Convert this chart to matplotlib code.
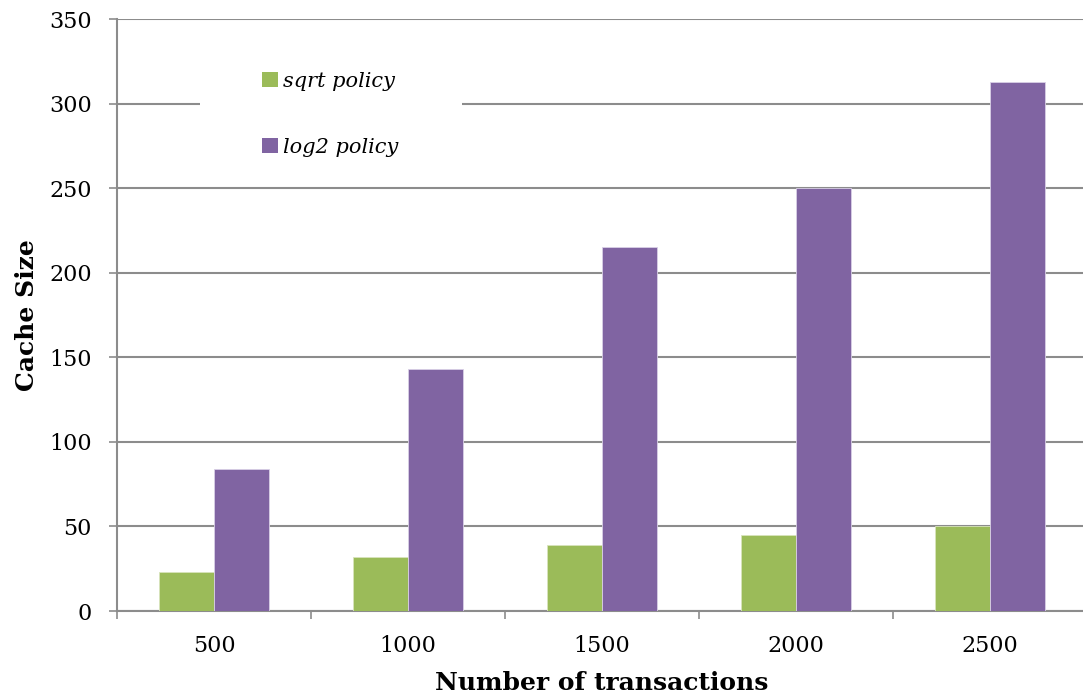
import matplotlib
matplotlib.use("Agg")
import matplotlib.pyplot as plt
import numpy as np
from matplotlib.patches import Patch, Rectangle

# Data
transactions = ["500", "1000", "1500", "2000", "2500"]
sqrt_policy = [23, 32, 39, 45, 50]
log2_policy = [84, 143, 215, 250, 313]
y_ticks = [0, 50, 100, 150, 200, 250, 300, 350]

green = "#9BBB59"
purple = "#8064A2"
grid_gray = "#8C8C8C"
serif = "DejaVu Serif"

fig = plt.figure(figsize=(10.83, 7.0), dpi=100)
ax = fig.add_axes([0.108, 0.1271, 0.8957, 0.8457])

x = np.arange(len(transactions))
w = 0.285
ax.bar(x - w, sqrt_policy, width=w, align="edge", color=green,
       edgecolor="#d8e4bc", linewidth=0.6, zorder=3)
ax.bar(x, log2_policy, width=w, align="edge", color=purple,
       edgecolor="#d9d0e6", linewidth=0.6, zorder=3)

ax.set_xlim(-0.5, 4.5)
ax.set_ylim(0, 350)
ax.set_yticks(y_ticks)
ax.set_yticklabels([str(v) for v in y_ticks], family=serif, fontsize=16)
ax.yaxis.grid(True, color=grid_gray, linewidth=1.5)
ax.set_axisbelow(True)

# Category labels centred, tick marks on the category boundaries
ax.set_xticks(x)
ax.set_xticklabels(transactions, family=serif, fontsize=16)
ax.tick_params(axis="x", length=0, pad=17)
ax.set_xticks(np.arange(-0.5, 5.0, 1.0), minor=True)
ax.tick_params(axis="x", which="minor", length=6, width=1.2, color=grid_gray, direction="out")
ax.tick_params(axis="y", length=6, width=1.2, color=grid_gray, direction="out", pad=12)

for side in ["top", "right"]:
    ax.spines[side].set_visible(False)
for side in ["left", "bottom"]:
    ax.spines[side].set_color(grid_gray)
    ax.spines[side].set_linewidth(1.5)

ax.set_xlabel("Number of transactions", family=serif, fontweight="bold",
              fontsize=18, labelpad=10)
ax.set_ylabel("Cache Size", family=serif, fontweight="bold",
              fontsize=18, labelpad=7.5)

# White legend background that interrupts the gridline behind it
ax.add_patch(Rectangle((0.0856, 0.745), 0.2701, 0.22, transform=ax.transAxes,
                       facecolor="white", edgecolor="none", zorder=1))

handles = [Patch(facecolor=green, edgecolor="none"), Patch(facecolor=purple, edgecolor="none")]
leg = ax.legend(handles, ["sqrt policy", "log2 policy"],
                loc="upper left", bbox_to_anchor=(0.1495, 0.911),
                frameon=False, prop={"family": serif, "style": "italic", "size": 15},
                handlelength=0.75, handleheight=0.75, handletextpad=0.25,
                labelspacing=2.25, borderpad=0, borderaxespad=0)
leg.set_zorder(5)

fig.savefig("out.png", dpi=100)
